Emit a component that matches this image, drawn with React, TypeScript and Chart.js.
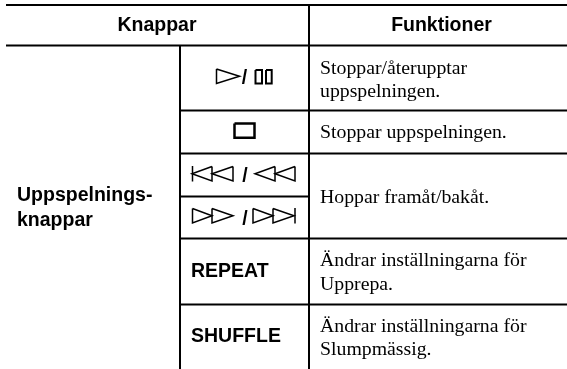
import React, { useEffect, useRef } from "react";
import { Chart, registerables } from "chart.js";

Chart.register(...registerables);

// ---- content ----
const headers = ["Knappar", "Funktioner"];
const groupLabel = ["Uppspelnings-", "knappar"];
const buttonWords = ["REPEAT", "SHUFFLE"];
const slashLabel = "/";
const functionTexts = [
  ["Stoppar/återupptar", "uppspelningen."],
  ["Stoppar uppspelningen."],
  ["Hoppar framåt/bakåt."],
  ["Ändrar inställningarna för", "Upprepa."],
  ["Ändrar inställningarna för", "Slumpmässig."],
];

// ---- layout, in the page's pixel units ----
const WIDTH = 567;
const HEIGHT = 369;
const ruleLeft = 6;
const col1 = 180;
const col2 = 309;
const topRule = 5;
const headRule = 45.5;
const fullRowRules = [110.5, 153.5, 238.5, 304.5];
const buttonOnlyRule = 196.5;

const textX = 320;
const wordX = 191;
const headerCentres = [157, 441.5];
const headerBaseline = 31;
const groupX = 17;
const groupBaselines = [201, 226];
const wordBaselines = [277, 342];
const functionBaselines = [[74, 97], [138], [203], [266, 289.5], [331.5, 354.5]];
const slashes = [
  [244.5, 84],
  [245, 181.5],
  [245, 224.5],
];

type P = [number, number];
const triRight = (x0: number, x1: number, y0: number, y1: number): P[] => [[x0, y0], [x1, (y0 + y1) / 2], [x0, y1], [x0, y0]];
const triLeft = (x0: number, x1: number, y0: number, y1: number): P[] => [[x1, y0], [x0, (y0 + y1) / 2], [x1, y1], [x1, y0]];
const box = (x0: number, x1: number, y0: number, y1: number): P[] => [[x0, y0], [x1, y0], [x1, y1], [x0, y1], [x0, y0]];

const thinGlyphs: P[][] = [
  triRight(216.5, 239.5, 69, 83.5),
  triLeft(192, 212, 166.5, 181),
  triLeft(212, 233, 166.5, 181),
  [[192.5, 166], [192.5, 181.5]],
  triLeft(255, 275, 166.5, 181),
  triLeft(275, 295, 166.5, 181),
  triRight(192.5, 212, 208.5, 223),
  triRight(212, 233, 208.5, 223),
  triRight(253, 273, 208.5, 223),
  triRight(273, 294, 208.5, 223),
  [[295, 208], [295, 223.5]],
];
const boldGlyphs: P[][] = [
  box(255.5, 262, 70, 83.5),
  box(266, 271.7, 70, 83.5),
];
const heavyGlyphs: P[][] = [box(234.5, 254.5, 123.5, 137.7)];

const rules: P[][] = [
  [[ruleLeft, topRule], [WIDTH, topRule]],
  [[ruleLeft, headRule], [WIDTH, headRule]],
  [[col1, headRule], [col1, HEIGHT]],
  [[col2, topRule], [col2, HEIGHT]],
  ...fullRowRules.map((y): P[] => [[col1, y], [WIDTH, y]]),
  [[col1, buttonOnlyRule], [col2, buttonOnlyRule]],
];

const asDataset = (pts: P[], width: number) => ({
  data: pts.map(([x, y]) => ({ x, y })),
  showLine: true,
  borderColor: "#000000",
  borderWidth: width,
  borderCapStyle: "butt" as const,
  borderJoinStyle: "miter" as const,
  pointRadius: 0,
  tension: 0,
  clip: false as const,
});

const SANS = "'Liberation Sans', Arial, sans-serif";
const SERIF = "'Liberation Serif', 'Times New Roman', serif";

const tablePlugin = {
  id: "tableText",
  afterDatasetsDraw(chart: any) {
    const { ctx, scales } = chart;
    const put = (s: string, x: number, y: number, font: string, align: CanvasTextAlign = "left") => {
      ctx.font = font;
      ctx.textAlign = align;
      ctx.textBaseline = "alphabetic";
      ctx.fillStyle = "#000000";
      ctx.fillText(s, scales.x.getPixelForValue(x), scales.y.getPixelForValue(y));
    };
    ctx.save();
    const bold = `bold 19.5px ${SANS}`;
    headers.forEach((h, i) => put(h, headerCentres[i], headerBaseline, bold, "center"));
    groupLabel.forEach((s, i) => put(s, groupX, groupBaselines[i], bold));
    buttonWords.forEach((s, i) => put(s, wordX, wordBaselines[i], bold));
    slashes.forEach(([x, y]) => put(slashLabel, x, y, bold, "center"));
    functionTexts.forEach((lines, r) =>
      lines.forEach((s, i) => put(s, textX, functionBaselines[r][i], `19.8px ${SERIF}`))
    );
    ctx.restore();
  },
};

export default function App() {
  const ref = useRef<HTMLCanvasElement>(null);
  useEffect(() => {
    const chart = new Chart(ref.current!, {
      type: "scatter",
      data: {
        datasets: [
          ...rules.map((r) => asDataset(r, 2)),
          ...thinGlyphs.map((g) => asDataset(g, 1.5)),
          ...boldGlyphs.map((g) => asDataset(g, 2)),
          ...heavyGlyphs.map((g) => asDataset(g, 2.5)),
        ],
      },
      options: {
        animation: false,
        responsive: false,
        layout: { padding: 0 },
        plugins: { legend: { display: false }, tooltip: { enabled: false }, title: { display: false } },
        scales: {
          x: { type: "linear", min: 0, max: WIDTH, display: false },
          y: { type: "linear", min: 0, max: HEIGHT, reverse: true, display: false },
        },
      },
      plugins: [tablePlugin],
    } as any);
    return () => chart.destroy();
  }, []);
  return (
    <div style={{ position: "fixed", left: 0, top: 0, width: WIDTH, height: HEIGHT, background: "#ffffff" }}>
      <canvas ref={ref} width={WIDTH} height={HEIGHT} style={{ display: "block" }} />
    </div>
  );
}
